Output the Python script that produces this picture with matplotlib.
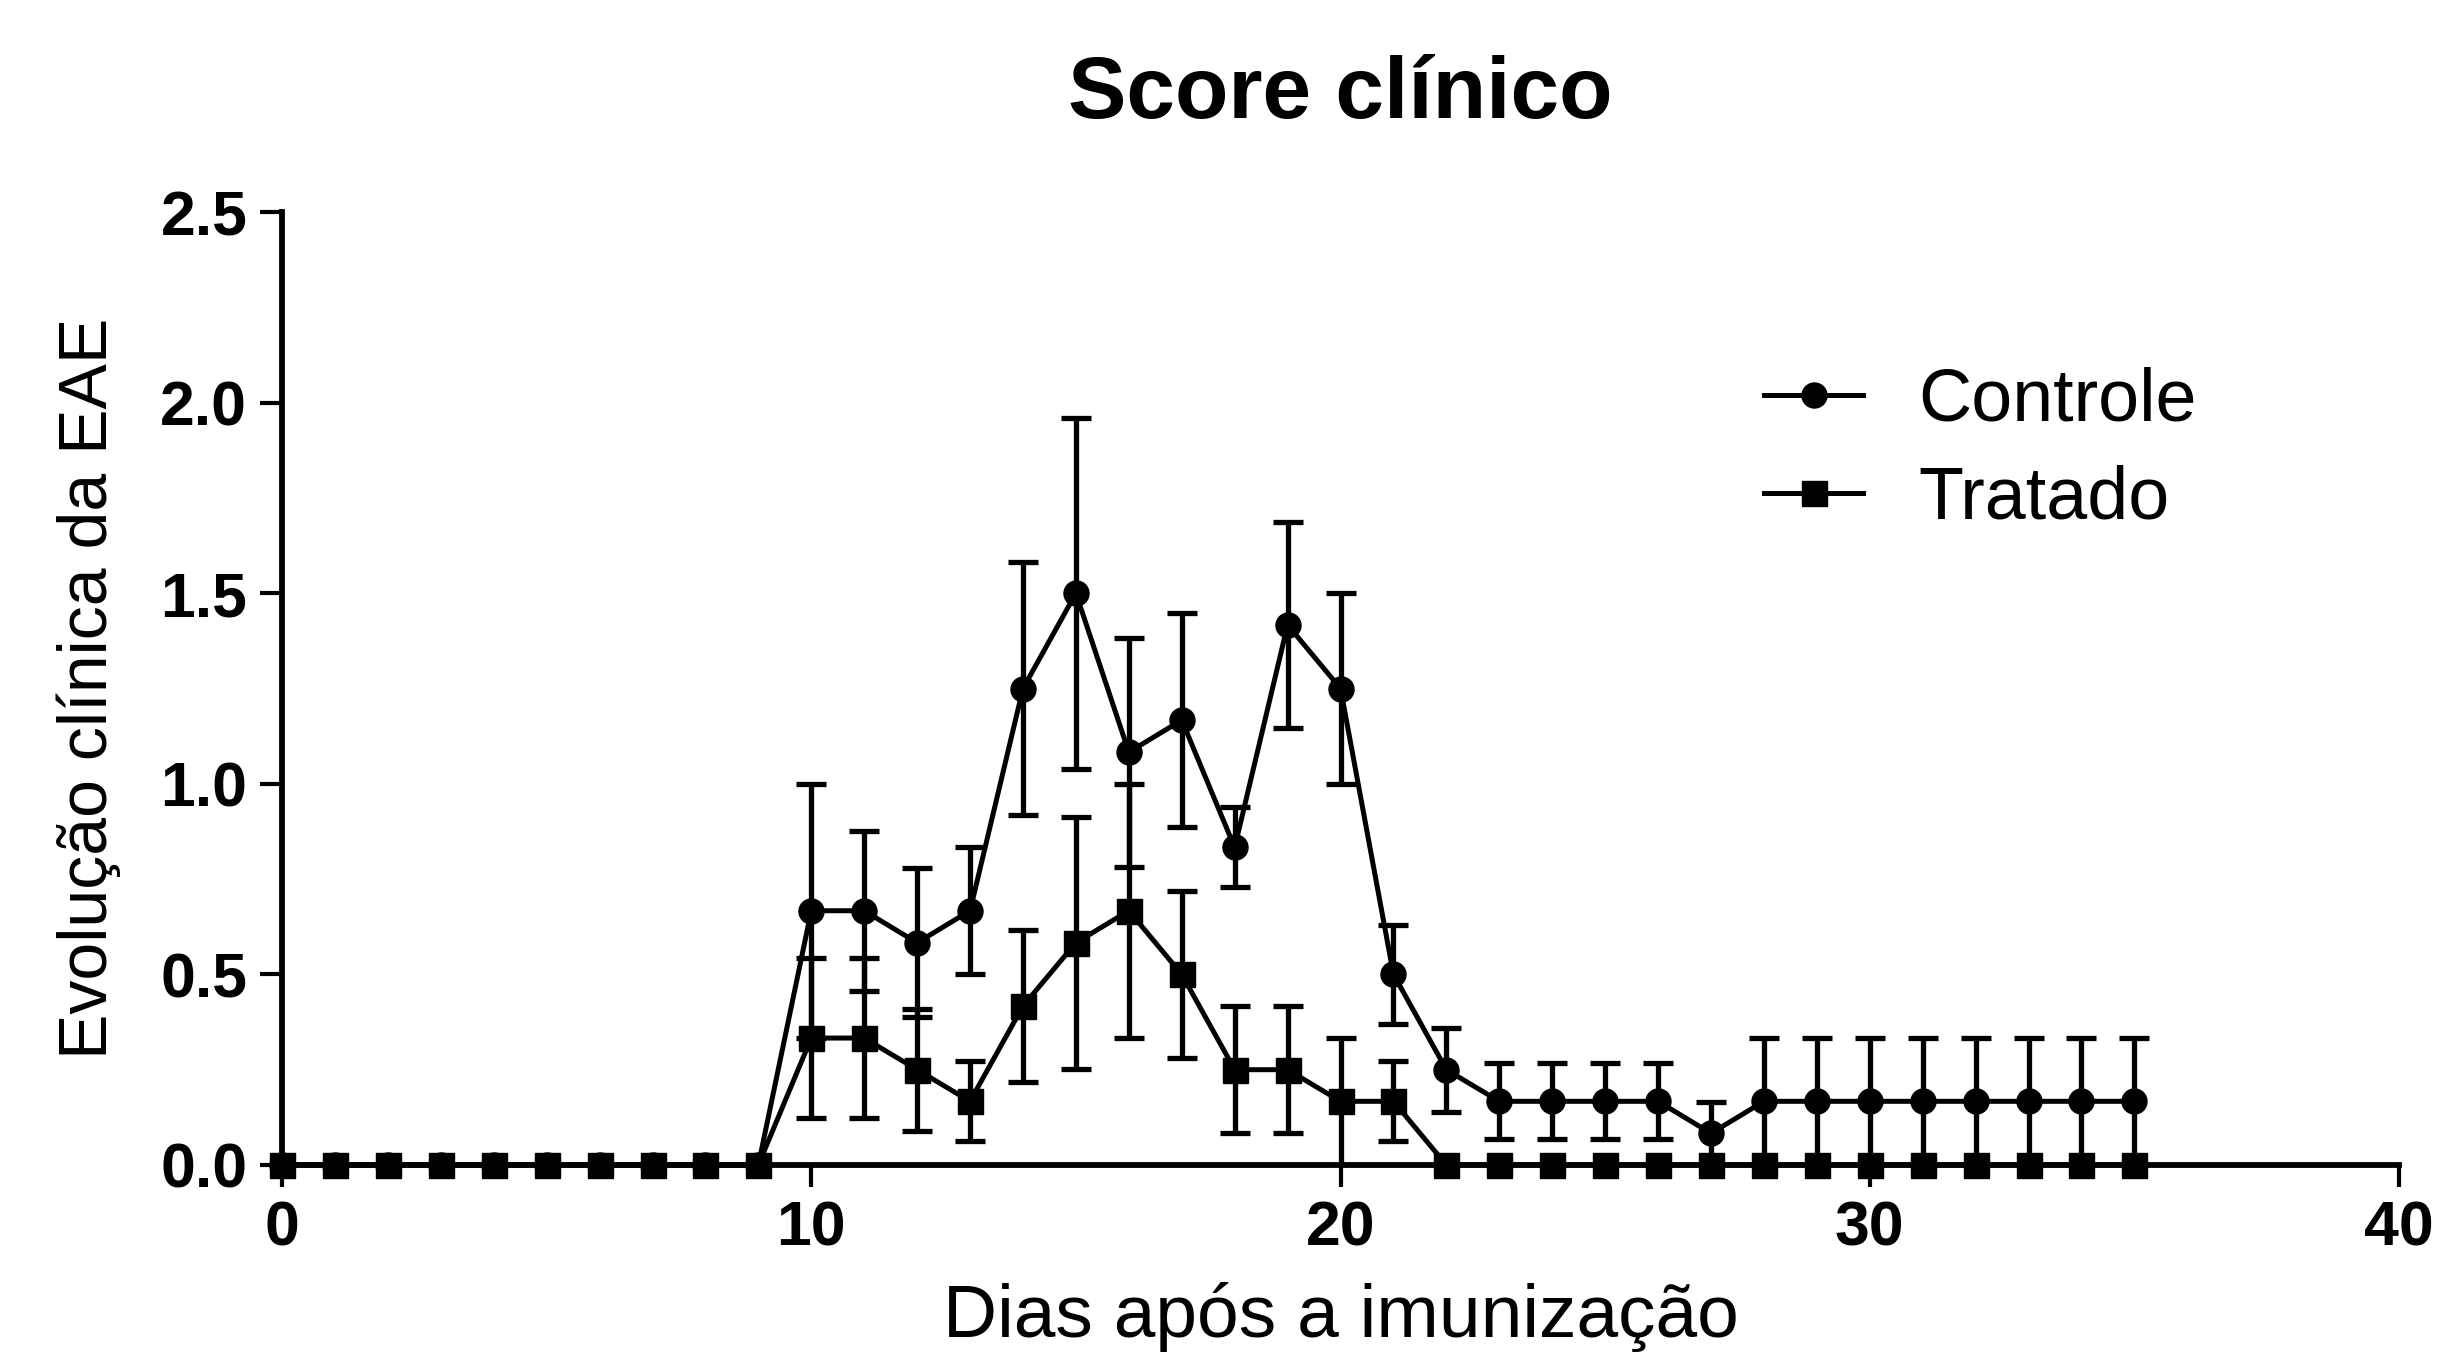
import numpy as np
import matplotlib
matplotlib.use("Agg")
import matplotlib.pyplot as plt

plt.rcParams['font.family'] = ['Liberation Sans', 'DejaVu Sans']

# dias após a imunização
days = list(range(36))

controle_mean = [0, 0, 0, 0, 0, 0, 0, 0, 0, 0,
                 0.667, 0.667, 0.583, 0.667, 1.25, 1.5, 1.083, 1.167, 0.833, 1.417,
                 1.25, 0.5, 0.25, 0.167, 0.167, 0.167, 0.167, 0.083, 0.167, 0.167,
                 0.167, 0.167, 0.167, 0.167, 0.167, 0.167]
controle_sem = [0, 0, 0, 0, 0, 0, 0, 0, 0, 0,
                0.333, 0.21, 0.195, 0.167, 0.333, 0.46, 0.3, 0.28, 0.105, 0.27,
                0.25, 0.13, 0.11, 0.1, 0.1, 0.1, 0.1, 0.083, 0.167, 0.167,
                0.167, 0.167, 0.167, 0.167, 0.167, 0.167]

tratado_mean = [0, 0, 0, 0, 0, 0, 0, 0, 0, 0,
                0.333, 0.333, 0.25, 0.167, 0.417, 0.583, 0.667, 0.5, 0.25, 0.25,
                0.167, 0.167, 0, 0, 0, 0, 0, 0, 0, 0,
                0, 0, 0, 0, 0, 0]
tratado_sem = [0, 0, 0, 0, 0, 0, 0, 0, 0, 0,
               0.21, 0.21, 0.16, 0.105, 0.2, 0.33, 0.333, 0.22, 0.167, 0.167,
               0.167, 0.105, 0, 0, 0, 0, 0, 0, 0, 0,
               0, 0, 0, 0, 0, 0]

xticks = [0, 10, 20, 30, 40]
yticks = [0.0, 0.5, 1.0, 1.5, 2.0, 2.5]

fig = plt.figure(figsize=(24.46, 13.54), dpi=100)
ax = fig.add_axes([0.1153, 0.1396, 0.8655, 0.7038])

LW = 3.6
for mean, sem, marker, label in [(controle_mean, controle_sem, "o", "Controle"),
                                  (tratado_mean, tratado_sem, "s", "Tratado")]:
    x = np.array(days); m = np.array(mean); s = np.array(sem)
    ok = s > 0
    ax.errorbar(x[ok], m[ok], yerr=s[ok], fmt="none", ecolor="black",
                elinewidth=3.8, capsize=11, capthick=3.8)
    ax.plot(x, m, color="black", lw=LW, marker=marker, markersize=18,
            label=label, clip_on=False, zorder=3)

ax.set_xlim(0, 40)
ax.set_ylim(0, 2.5)
ax.set_xticks(xticks)
ax.set_yticks(yticks)
ax.set_yticklabels(["%.1f" % v for v in yticks])
for sp in ["top", "right"]:
    ax.spines[sp].set_visible(False)
for sp in ["left", "bottom"]:
    ax.spines[sp].set_linewidth(4.2)
ax.tick_params(direction="out", length=16, width=3.0, labelsize=45, pad=9)
for lab in ax.get_xticklabels() + ax.get_yticklabels():
    lab.set_fontweight("bold")

ax.set_title("Score clínico", fontsize=63, fontweight="bold", pad=68)
ax.set_xlabel("Dias após a imunização", fontsize=54, labelpad=17)
ax.set_ylabel("Evolução clínica da EAE", fontsize=49, labelpad=28)

ax.legend(loc="upper left", bbox_to_anchor=(0.70, 0.838), frameon=False,
          fontsize=53, handlelength=1.35, handletextpad=0.75,
          labelspacing=0.4, borderpad=0, borderaxespad=0)

fig.savefig("out.png", dpi=100)
